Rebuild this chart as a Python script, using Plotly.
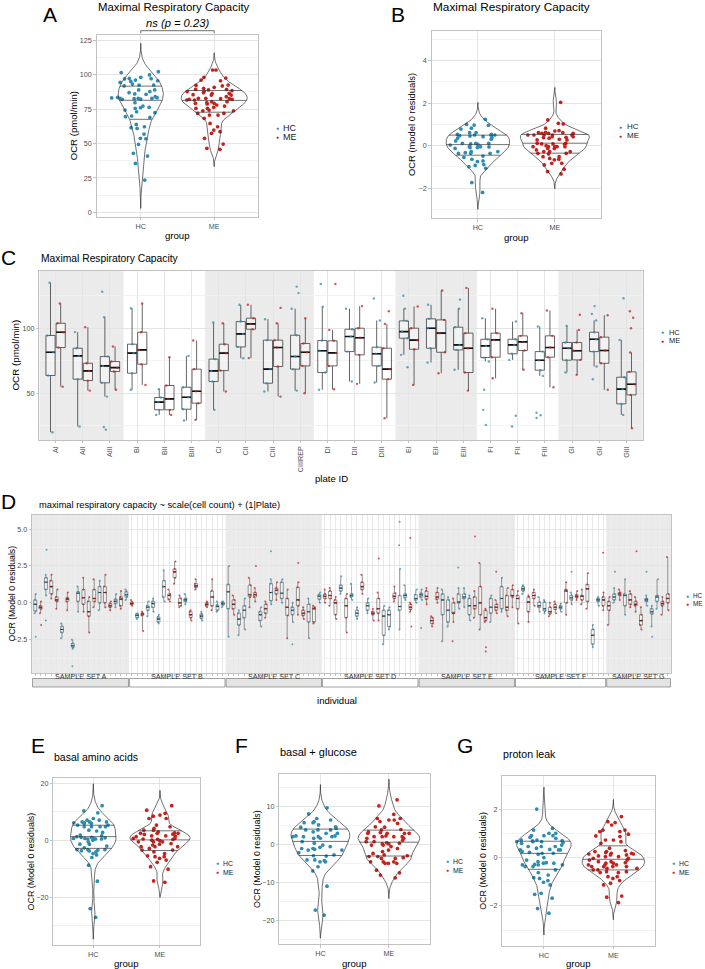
import numpy as np
import plotly.graph_objects as go

# ======================= DATA =======================
groups = ['HC', 'ME']

# Panel A - Maximal Respiratory Capacity, OCR (pmol/min)
a_hc = [93.2, 97.3, 92.5, 86.0, 83.3, 83.5, 82.8, 86.9, 87.7, 85.7, 88.9, 102.2, 99.8, 95.6, 97.1,
        91.8, 94.4, 96.1, 96.9, 92.5, 95.2, 101.5, 98.1, 88.9, 82.8, 82.6, 83.1, 79.7, 76.3, 72.4,
        77.2, 82.3, 82.8, 84.0, 82.1, 76.0, 75.5, 73.1, 74.3, 69.5, 70.0, 69.0, 61.0, 61.5, 62.2,
        63.9, 56.9, 53.8, 53.5, 49.4, 42.9, 40.9, 35.6, 23.5]
a_me = [92.3, 86.9, 85.5, 82.6, 81.6, 80.4, 78.0, 75.5, 89.3, 87.7, 84.0, 82.1, 81.6, 79.2, 90.8,
        89.3, 97.6, 95.6, 103.4, 88.9, 90.1, 91.8, 88.4, 85.2, 82.8, 82.1, 76.3, 79.7, 79.2, 73.8,
        71.9, 70.7, 68.3, 87.7, 86.4, 98.1, 82.6, 80.4, 86.4, 92.5, 96.1, 103.4, 82.8, 78.7, 75.5,
        71.9, 70.7, 57.4, 53.8, 49.6, 58.6, 64.6, 62.2, 59.8, 46.5, 45.8, 73.8, 74.3, 85.2, 77.2]
a_pvalue_label = 'ns (p = 0.23)'

# Panel B - Maximal Respiratory Capacity, model 0 residuals
b_hc = [0.96, -0.06, -0.09, -0.09, -0.28, -0.64, 0.08, 0.47, 0.61, 0.11, 0.50, 0.97, 1.00, 0.53,
        0.53, 0.42, 0.30, -0.05, 0.03, 0.22, 0.11, -0.13, -0.33, -0.75, -0.72, -0.89, -0.28, -0.49,
        0.50, 0.61, 0.35, 0.11, 0.38, 0.82, 1.24, 0.45, 0.50, 0.78, -1.07, -0.93, -0.55, -0.36,
        -0.36, 0.06, -0.99, -1.74, -2.20, -0.05, -0.36]
b_me = [0.63, 0.50, 0.42, 0.82, 0.61, 0.42, 0.08, 0.08, -0.39, -0.52, 1.02, 0.58, 0.50, 0.06, -0.05,
        -0.05, -0.13, -0.28, -0.36, -0.64, -0.83, 1.21, 1.05, 0.69, 0.35, 0.50, 0.27, 0.00, 2.04,
        0.50, -0.05, 0.39, 0.71, -0.52, 0.58, 0.38, 0.50, 0.11, -0.36, 0.58, -0.13, -0.28, 0.61,
        -0.83, -1.33, -1.22, -0.67, -0.91, -1.11, -0.05, -0.20, 0.27, -0.60, -0.28, 0.30, -0.05, 0.11]

# Panel C - per plate box summaries (OCR pmol/min)
plates = ['AI', 'AII', 'AIII', 'BI', 'BII', 'BIII', 'CI', 'CII', 'CIII', 'CIIIREP', 'DI', 'DII',
          'DIII', 'EI', 'EII', 'EIII', 'FI', 'FII', 'FIII', 'GI', 'GII', 'GIII']
c_hc_lo = [20, 24.4, 47.4, 52.6, 33.3, 29, 37.2, 76.9, 51.3, 52, 52.6, 59, 58.2, 79.5, 73.6, 68,
           74.4, 75.6, 63.3, 65.9, 70.5, 33.3]
c_hc_q1 = [63.6, 60.8, 58, 65.4, 37.2, 37.7, 59, 85.6, 57.7, 68.5, 65.9, 82, 71, 92.3, 84.6, 83.3,
           77.4, 80.3, 67.7, 75.4, 82, 41.8]
c_hc_med = [81.5, 78.7, 71, 80.8, 43.1, 46.9, 67.2, 95.6, 68.5, 78.2, 82.6, 93.6, 80.3, 97.4, 100,
            87.2, 86.4, 87.2, 75.4, 84.6, 91.5, 53.1]
c_hc_q3 = [94.4, 84.6, 78.2, 87.7, 46.7, 54.6, 76.2, 105.1, 90.8, 94.6, 90.5, 99.2, 85.4, 105.6,
           107.2, 100.8, 91.5, 91.5, 82, 89, 96.9, 62.3]
c_hc_hi = [135, 97, 108.5, 115.4, 53.1, 78.7, 104.4, 118, 106.9, 115, 116.5, 115, 105.9, 115, 118,
           115, 107.7, 105.1, 101.3, 101.8, 106, 91]
c_hc_out_plate = ['AIII', 'AIII', 'AIII', 'CIIIREP', 'CIIIREP', 'DI', 'DIII', 'EI', 'EI', 'EIII',
                  'FI', 'FI', 'FI', 'FII', 'FII', 'FIII', 'FIII', 'FIII', 'GII', 'GII', 'GII', 'GIII']
c_hc_out_val = [24, 22, 128, 132, 127, 134, 122.8, 70, 125, 122, 52.6, 37.2, 25.6, 32.6, 24.4,
                35, 31, 33, 60.8, 111, 117, 123]
c_me_lo = [55, 52, 52.6, 56.4, 33.3, 29.5, 51.3, 77, 47.4, 50, 53, 57.2, 30.8, 56.4, 65.4, 52,
           61.5, 68, 54.6, 64.1, 52.6, 23.1]
c_me_q1 = [85.1, 59.7, 66.7, 72.3, 37.2, 42.3, 67.4, 99.2, 70.5, 71, 71, 79.5, 60.8, 83.8, 81.5,
           65.9, 77.7, 82.8, 77.7, 75.6, 73, 48.7]
c_me_med = [96.9, 67.2, 69.7, 83.3, 45.6, 51.5, 80.8, 103.3, 85.1, 81.5, 81, 92.6, 68.5, 90.8,
            96.2, 84.6, 91, 89.5, 85.1, 82.6, 82.8, 56.9]
c_me_q3 = [103.8, 73, 74.4, 96.9, 55.9, 68.5, 87.7, 107.7, 90.8, 88.2, 90.3, 100, 84.6, 100, 106.4,
           96.2, 96.2, 94.1, 94.1, 89, 93.1, 66.4]
c_me_hi = [119, 100.8, 85.9, 119, 77.7, 90.5, 103.8, 118, 103.8, 107.7, 98.7, 117, 103.3, 116.7,
           129, 131, 115, 111.5, 113.6, 98.7, 110, 81.3]
c_me_out_plate = ['CIII', 'DI', 'DIII', 'GI', 'GIII', 'GIII', 'GIII']
c_me_out_val = [115.6, 134, 113, 110.3, 100, 108, 113]

# Panel D - per individual box summaries (model 0 residuals)
sample_sets = ['SAMPLE SET A', 'SAMPLE SET B', 'SAMPLE SET C', 'SAMPLE SET D',
               'SAMPLE SET E', 'SAMPLE SET F', 'SAMPLE SET G']
set_sizes = [18, 18, 18, 18, 18, 17, 12]
d_group = ['HC', 'ME', 'HC', 'ME', 'ME', 'HC', 'ME', 'HC', 'HC', 'ME', 'ME', 'ME', 'HC', 'ME', 'ME', 'HC', 'ME', 'HC',
           'ME', 'HC', 'ME', 'HC', 'HC', 'HC', 'HC', 'ME', 'ME', 'ME', 'HC', 'ME', 'ME', 'HC', 'ME', 'ME', 'HC', 'HC',
           'HC', 'ME', 'HC', 'HC', 'ME', 'ME', 'HC', 'ME', 'HC', 'ME', 'HC', 'ME', 'HC', 'ME', 'ME', 'HC', 'ME', 'HC',
           'ME', 'ME', 'ME', 'HC', 'ME', 'HC', 'HC', 'ME', 'HC', 'ME', 'ME', 'HC', 'HC', 'ME', 'HC', 'HC', 'ME', 'HC',
           'HC', 'ME', 'ME', 'ME', 'HC', 'HC', 'ME', 'HC', 'HC', 'HC', 'ME', 'ME', 'ME', 'HC', 'ME', 'HC', 'ME', 'ME',
           'ME', 'HC', 'ME', 'ME', 'HC', 'HC', 'ME', 'ME', 'HC', 'ME', 'HC', 'ME', 'ME', 'ME', 'HC', 'HC', 'ME',
           'ME', 'HC', 'ME', 'HC', 'ME', 'ME', 'ME', 'HC', 'HC', 'HC', 'ME', 'ME']
d_lo = [-0.7, -0.7, 0.5, 0.3, -0.4, -2.4, -0.5, -3.1, -0.6, -0.6, -2.0, -0.3, -0.5, -0.3, -0.5, -0.3, -0.4, 0.2,
        -0.2, -1.1, -1.9, -0.9, -0.6, -1.4, 0.1, 0.1, 1.3, -0.3, -0.1, -1.2, 0.9, -1.2, -0.3, -0.5, -0.6, -0.3,
        -2.3, -0.8, -2.2, -1.8, -0.3, 0.1, -1.6, -1.0, -0.1, 0.2, 0.0, -2.4, -1.3, -0.8, -1.1, -2.4, -1.4, 0.0,
        0.0, -0.2, -1.1, 0.6, -2.0, 0.2, -1.1, 0.6, -0.7, -1.2, -1.2, -2.8, -1.8, 0.1, -1.8, 0.2, -0.6, 0.0,
        0.2, -0.1, -1.6, 0.0, -2.6, -1.6, -1.3, -0.4, -0.3, -1.2, -1.0, -1.8, -1.3, -1.3, -0.7, -0.6, -0.9, -0.3,
        -1.4, 0.6, -1.3, -0.2, -0.6, -0.7, -0.9, -0.7, -0.6, -0.8, -0.1, 0.2, -0.1, -0.4, -3.0, -0.2, -0.5,
        -1.5, 0.0, 0.2, -0.8, -0.3, -0.6, -1.8, -0.2, -1.6, -0.4, -0.8, -0.5]
d_q1 = [-0.55, -0.4, 0.9, 0.6, 0.1, -2.0, 0.1, -3.0, 0.1, -0.1, -0.9, 0.1, 0.0, 0.0, -0.3, -0.05, -0.2, 0.4,
        -0.1, -1.0, -0.85, -0.5, -0.3, -1.3, 0.4, 0.25, 1.7, -0.2, 0.1, -1.0, 1.05, -1.05, -0.2, -0.2, -0.5, -0.15,
        -0.4, -0.4, -1.5, -1.0, 0.4, 0.4, -1.2, -0.7, 0.15, 0.6, 0.3, -0.85, -0.8, -0.2, -0.85, -1.3, -1.3, 0.25,
        0.3, 0.3, -0.8, 0.8, -1.0, 0.4, -0.9, 0.9, -0.5, -0.8, -0.7, -2.2, -1.6, 0.3, -0.5, 0.35, -0.45, 0.2,
        0.4, 0.25, -1.4, 0.25, -0.8, -1.3, -0.7, 0.0, 0.3, -0.8, -0.4, -0.8, -1.2, -0.7, -0.5, -0.4, -0.5, 0.4,
        -0.4, 0.8, -0.6, 0.3, -0.3, -0.55, -0.75, -0.45, -0.4, 0.0, 0.2, 0.35, 0.2, 0.1, -2.8, 0.1, -0.2,
        -0.5, 0.2, 0.5, -0.2, -0.1, -0.2, -1.5, 0.1, -0.75, 0.1, -0.2, 0.0]
d_med = [-0.1, -0.3, 1.4, 1.1, 0.2, -1.8, 0.25, -2.9, 0.65, 0.35, -0.6, 0.3, 0.7, 0.7, -0.2, 0.1, 0.25, 0.55,
         -0.05, -0.85, -0.75, -0.3, -0.05, -1.1, 1.1, 0.5, 2.1, 0.0, 0.2, -0.8, 1.15, -0.9, -0.1, 0.4, -0.25, -0.05,
         0.75, -0.1, -1.1, -0.5, 0.55, 0.55, -0.8, -0.4, 0.7, 0.85, 0.65, -0.3, -0.5, 0.2, -0.7, -0.6, -0.4, 0.45,
         0.45, 0.5, 0.0, 1.0, -0.2, 0.5, -0.7, 1.1, -0.2, -0.7, -0.4, -0.9, -0.8, 0.45, -0.25, 0.5, -0.3, 0.3,
         0.55, 0.45, -1.2, 0.4, 0.2, -0.5, -0.7, 0.05, 0.4, -0.2, -0.2, 0.0, -1.0, -0.3, -0.3, 0.3, -0.3, 0.5,
         0.3, 0.95, 0.05, 0.5, -0.2, -0.4, -0.6, -0.3, -0.3, 0.8, 0.35, 0.45, 0.45, 0.95, -2.2, 0.2, 0.2,
         -0.2, 0.4, 0.6, 0.5, 0.2, -0.1, -1.2, 0.2, -0.6, 0.4, -0.05, 0.3]
d_q3 = [0.2, -0.2, 1.7, 1.5, 0.4, -1.6, 0.35, -2.75, 0.75, 0.9, 0.1, 0.9, 1.1, 1.1, -0.05, 0.25, 0.4, 0.75,
        0.05, -0.75, -0.7, -0.2, 0.1, -0.95, 1.5, 0.6, 2.3, 0.3, 0.3, -0.6, 1.3, -0.75, 0.0, 0.8, -0.15, 0.05,
        1.25, 0.2, -0.7, -0.2, 1.2, 0.7, -0.6, -0.1, 1.3, 1.0, 1.4, 0.3, -0.3, 1.05, -0.5, -0.1, -0.3, 0.55,
        0.6, 0.8, 0.2, 1.2, 0.3, 0.6, -0.5, 1.4, 0.0, -0.6, 0.3, -0.5, -0.5, 0.65, 0.5, 0.6, -0.1, 0.55,
        0.65, 0.8, -1.0, 0.7, 0.6, 0.2, 0.0, 0.6, 0.6, 0.3, 0.4, 1.1, -0.5, 0.3, -0.1, 1.1, 0.5, 0.9,
        0.5, 1.1, 0.4, 0.7, 0.05, 0.05, -0.3, -0.1, -0.2, 0.9, 0.5, 0.55, 0.5, 1.25, -1.8, 0.3, 0.4,
        0.1, 0.6, 0.7, 0.6, 0.6, 0.1, -0.8, 0.3, -0.4, 0.5, 0.1, 0.6]
d_hi = [0.6, 0.1, 1.9, 1.9, 0.9, -1.4, 0.7, -2.5, 1.1, 1.7, 0.4, 1.6, 1.5, 1.9, 0.1, 0.6, 0.8, 0.9,
        0.2, -0.7, -0.6, 0.1, 0.3, -0.8, 2.2, 0.9, 2.8, 0.5, 0.6, -0.5, 1.6, -0.6, 0.1, 1.6, 0.1, 0.1,
        2.5, 0.5, -0.5, 0.3, 1.7, 1.0, -0.3, 0.1, 1.6, 1.4, 1.6, 0.9, 0.0, 1.4, -0.3, 0.3, -0.2, 0.7,
        0.9, 1.0, 0.4, 1.8, 0.6, 1.3, -0.3, 1.9, 0.3, -0.4, 0.7, -0.2, -0.3, 1.1, 2.3, 1.2, 0.0, 0.9,
        0.9, 1.0, -0.9, 1.0, 0.9, 0.4, 0.3, 1.0, 1.0, 0.5, 0.8, 2.7, -0.4, 0.5, 0.2, 1.7, 1.0, 1.2,
        0.8, 1.2, 0.5, 0.9, 0.4, 0.2, 0.0, 0.1, -0.05, 1.4, 0.7, 0.8, 0.9, 2.0, -1.5, 0.4, 0.7,
        0.4, 1.0, 0.9, 1.6, 0.8, 0.4, -0.3, 0.5, -0.2, 1.6, 0.4, 3.1]
d_out_ind = [1, 2, 3, 3, 8, 42, 45, 49, 50, 65, 69, 69, 71, 71, 73, 79, 80, 83, 85, 85, 87, 101,
             107, 109, 113, 115, 116]
d_out_val = [-2.3, -1.5, 3.6, -1.2, -4.3, 2.5, 3.5, -2.8, 2.7, 3.0, 5.5, 3.9, 4.4, -1.6, -1.7, -2.6,
             2.4, 4.5, -3.0, -3.3, 2.1, 2.1, 3.4, 2.1, 3.5, 2.1, -2.3]

# Panel E - basal amino acids
e_hc = [12.2, 6.5, 6.2, 7.1, 5.4, 3.6, 4.8, 4.8, 6.5, 7.7, 10.4, 7.1, 9.7, 5.4, 6.0, 4.8, 3.3, 0.5,
        0.5, 0.7, 0.1, 1.9, -0.5, -1.3, 1.3, 1.1, 1.1, 0.9, 0.5, 0.7, -2.0, -2.6, -3.6, -3.2, -5.1,
        -6.0, -3.2, -3.4, -4.6, 0.7, -1.3, 2.8, 1.6, 6.2, -3.7, -3.2, 6.0, -4.0, -8.7, -14.3, -27.0,
        -23.9, 4.8, 6.5]
e_me = [8.5, 8.9, 7.7, 7.7, 12.2, 9.5, 10.6, 5.4, 4.8, 3.6, 3.0, 1.6, 2.7, 2.2, 0.5, 2.1, 2.5, 1.5,
        0.7, -0.5, 0.4, 2.5, 4.2, 3.6, 2.5, 0.7, 1.6, 1.3, -0.1, 0.4, -1.3, -0.5, -2.8, -2.2, -3.4,
        -4.6, -5.7, -4.0, -2.2, -6.3, -9.2, -10.1, -1.6, -2.2, -3.4, -5.4, -1.1, -6.9, -5.7, -7.7,
        -14.2, -14.7, 0.1, -0.5]

# Panel F - basal + glucose
f_hc = [3.3, 4.6, 5.7, 3.8, 2.9, 0.3, -4.3, -7.0, 3.8, 5.7, 5.1, 6.4, 2.9, 4.5, 2.2, -1.5, -2.8,
        -4.1, -4.6, -0.2, -2.2, -1.1, 2.0, 6.0, 1.6, 2.0, 2.2, 1.6, -0.6, -1.3, 0.7, 2.0, 3.8, 4.2,
        -3.0, -1.1, -1.5, -5.9, -3.1, -4.6, -4.1, 9.6, 8.0, -11.0, -17.3, -18.6, 2.0, -0.8, 6.8]
f_me = [6.4, 6.0, 6.4, 6.8, 4.5, 3.8, 2.9, 2.0, 1.6, 2.9, 3.9, 3.3, 2.9, 0.7, 0.1, -0.2, 0.1, -0.6,
        -1.1, -0.2, 0.7, 1.1, 2.0, 11.7, 7.9, 6.8, 1.6, 2.0, 2.2, 2.9, 3.1, 4.6, 5.5, 10.1, 2.0, -1.9,
        -3.0, -1.5, -2.8, -4.6, -5.0, -4.6, -3.5, -3.2, -5.0, -3.2, -3.7, -4.6, -2.4, -3.7, -7.5,
        -8.8, -6.8, -8.1, -5.0, 0.3, 0.4]

# Panel G - proton leak
g_hc = [2.01, 0.91, 0.91, 0.91, 1.01, 1.14, 0.73, 0.66, 0.59, 0.62, 0.66, 0.66, 0.69, 0.84, 0.80,
        0.73, 1.21, 1.01, 0.70, 0.46, 0.32, 0.00, -0.10, -0.30, -0.37, -0.17, -0.23, 0.25, 0.32,
        0.18, 0.14, 0.46, 0.34, 0.39, 0.46, 0.52, 0.32, 0.22, 0.18, -0.21, -0.30, -0.37, -0.23,
        -0.30, -0.28, -0.51, -0.72, -0.62, -0.95, -0.86, -1.02, -1.13, -0.83, -1.52, -1.48, -1.68,
        -2.11, -2.30]
g_me = [1.14, 0.73, 0.87, 1.14, 0.97, 0.66, 0.59, 0.73, 1.45, 1.70, 1.35, 0.90, 1.08, 1.08, 1.49,
        0.11, 0.25, 0.18, 0.39, 0.29, 0.11, 0.25, 0.21, 0.15, 0.07, -0.03, -0.10, -0.23, -0.30,
        0.04, 0.18, 0.04, -0.03, 0.15, -0.10, -0.17, -0.30, -0.37, -0.23, -0.37, -0.51, -0.21,
        -0.30, -0.44, -0.62, -0.17, -0.37, -0.58, -0.44, -0.51, -0.58, -0.37, -0.62, -0.79, -0.86,
        -1.06, -0.79, -1.13, -0.95, -1.64, -1.86, -1.59]

# ======================= STYLE / LAYOUT =======================
W, H = 705, 969
COL = {'HC': '#2C8CB1', 'ME': '#C8201C'}
FONT = 'Liberation Sans, Arial, Helvetica, sans-serif'
INK = '#333333'

# panel plot areas in pixels: (left, right, top, bottom)
BOX = {
    'A': (96.7, 258.3, 35.0, 216.7),
    'B': (431.7, 601.0, 30.7, 218.3),
    'C': (39.3, 642.7, 271.0, 440.0),
    'D': (32.0, 671.0, 515.0, 673.0),
    'E': (53.3, 200.0, 778.3, 945.0),
    'F': (279.3, 430.0, 774.0, 944.3),
    'G': (502.3, 655.0, 776.0, 946.0),
}
AX = {'A': '', 'B': '2', 'C': '3', 'D': '4', 'E': '5', 'F': '6', 'G': '7'}


def fx(p):
    return p / W


def fy(p):
    return 1 - p / H


fig = go.Figure()
ann = []
shapes = []
layout_axes = {}


def add_text(x, y, s, size, color='#000000', xanchor='center', yanchor='middle', angle=0):
    ann.append(dict(x=fx(x), y=fy(y), xref='paper', yref='paper', text=s, showarrow=False,
                    xanchor=xanchor, yanchor=yanchor, textangle=angle, borderpad=0,
                    font=dict(family=FONT, size=size, color=color)))


def axis(panel, letter, rng, **kw):
    l, r, t, b = BOX[panel]
    dom = [fx(l), fx(r)] if letter == 'x' else [fy(b), fy(t)]
    other = ('y' if letter == 'x' else 'x') + AX[panel]
    d = dict(domain=dom, anchor=other, range=rng, showline=True, mirror=True,
             linecolor='#C2C2C2', linewidth=0.8, showgrid=True, gridcolor='#E4E4E4',
             gridwidth=0.6, zeroline=False, ticks='outside', ticklen=2.5, tickwidth=0.6,
             tickcolor='#C2C2C2', tickfont=dict(family=FONT, size=7.2, color='#4D4D4D'))
    d.update(kw)
    layout_axes[letter + 'axis' + AX[panel]] = d


def kde(vals):
    v = np.asarray(vals, dtype=float)
    n = len(v)
    sd = v.std(ddof=1)
    iqr = np.subtract(*np.percentile(v, [75, 25]))
    bw = 0.9 * min(sd, iqr / 1.34) * n ** -0.2
    grid = np.linspace(v.min() - 3 * bw, v.max() + 3 * bw, 512)
    dens = np.exp(-0.5 * ((grid[:, None] - v[None, :]) / bw) ** 2).sum(1) / (n * bw * np.sqrt(2 * np.pi))
    return grid, dens


def legend_block(x_dot, y_hc, y_me, size):
    for g, yy in (('HC', y_hc), ('ME', y_me)):
        add_text(x_dot, yy, '●', 5, color=COL[g])
        add_text(x_dot + 4.8, yy, g, size, color='#1A1A1A', xanchor='left')


def violin_panel(panel, hc, me, yrng, dtick, minor, title, title_size, title_y, yfmt=None):
    xa, ya = 'x' + AX[panel], 'y' + AX[panel]
    data = {'HC': np.asarray(hc, float), 'ME': np.asarray(me, float)}
    kd = {g: kde(data[g]) for g in groups}
    maxd = max(kd[g][1].max() for g in groups)
    for i, g in enumerate(groups):
        pos = i + 1
        grid, dens = kd[g]
        hw = 0.45 * dens / maxd
        ox = np.concatenate([pos - hw, (pos + hw)[::-1], [pos - hw[0]]])
        oy = np.concatenate([grid, grid[::-1], [grid[0]]])
        # white violin body (between grid lines and the jittered points)
        path = 'M' + 'L'.join('{:.5f},{:.5f}'.format(a, b) for a, b in zip(ox[::2], oy[::2])) + 'Z'
        shapes.append(dict(type='path', xref=xa, yref=ya, path=path, fillcolor='white',
                           line=dict(width=0), layer='between'))
        fig.add_trace(go.Scatter(x=ox, y=oy, mode='lines', line=dict(color=INK, width=0.7),
                                 xaxis=xa, yaxis=ya, hoverinfo='skip', showlegend=False))
        cdf = np.cumsum(dens)
        cdf = cdf / cdf[-1]
        qx, qy = [], []
        for p in (0.25, 0.5, 0.75):
            yq = np.interp(p, cdf, grid)
            w = np.interp(yq, grid, hw)
            qx += [pos - w, pos + w, None]
            qy += [yq, yq, None]
        fig.add_trace(go.Scatter(x=qx, y=qy, mode='lines', line=dict(color=INK, width=0.7),
                                 xaxis=xa, yaxis=ya, hoverinfo='skip', showlegend=False))
    for i, g in enumerate(groups):
        fig.add_trace(go.Box(
            x=[i + 1] * len(data[g]), y=data[g], name=g, boxpoints='all', jitter=1, pointpos=0,
            width=0.86, fillcolor='rgba(0,0,0,0)', line=dict(width=0, color='rgba(0,0,0,0)'),
            marker=dict(color=COL[g], size=3.7), offsetgroup='v' + panel,
            alignmentgroup='v' + panel, xaxis=xa, yaxis=ya, showlegend=False, hoverinfo='y'))
    axis(panel, 'x', [0.4, 2.6], tickmode='array', tickvals=[1, 2], ticktext=groups)
    ykw = dict(tickmode='linear', tick0=0, dtick=dtick,
               minor=dict(dtick=minor, tick0=0, showgrid=True, gridcolor='#F2F2F2', gridwidth=0.5))
    if yfmt:
        ykw['tickformat'] = yfmt
    axis(panel, 'y', yrng, **ykw)
    l, r, t, b = BOX[panel]
    add_text(l, title_y, title, title_size, xanchor='left')


# ---------- Panel A ----------
violin_panel('A', a_hc, a_me, [-3.1, 128.8], 25, 12.5, 'Maximal Respiratory Capacity', 11.4, 7.5)
add_text(73.5, 125.8, 'OCR (pmol/min)', 9.6, angle=-90)
add_text(177.5, 235.5, 'group', 9.6)
add_text(50, 15, 'A', 21)
add_text(178, 23.5, '<i>' + a_pvalue_label + '</i>', 11.2)
shapes.append(dict(type='path', xref='x', yref='paper',
                   path='M1,{0}L1,{1}L2,{1}L2,{0}'.format(fy(33.3), fy(30.7)),
                   line=dict(color=INK, width=0.7)))
legend_block(277, 128.0, 137.0, 9.0)

# ---------- Panel B ----------
violin_panel('B', b_hc, b_me, [-3.42, 5.41], 2, 1, 'Maximal Respiratory Capacity', 11.8, 6.5)
add_text(411.5, 124.5, 'OCR (model 0 residuals)', 9.4, angle=-90)
add_text(516.5, 237.3, 'group', 9.6)
add_text(398, 15, 'B', 21)
legend_block(620.7, 126.8, 135.5, 8.0)

# ---------- Panel C ----------
c_pos = list(range(1, len(plates) + 1))
c_sets = {
    'HC': (c_hc_lo, c_hc_q1, c_hc_med, c_hc_q3, c_hc_hi, c_hc_out_plate, c_hc_out_val),
    'ME': (c_me_lo, c_me_q1, c_me_med, c_me_q3, c_me_hi, c_me_out_plate, c_me_out_val),
}
for g in groups:
    lo, q1, med, q3, hi, op, ov = c_sets[g]
    ptx, pty = [], []
    for i, p in enumerate(c_pos):
        for v in (lo[i], q1[i], med[i], q3[i], hi[i]):
            ptx.append(p)
            pty.append(v)
    for pl, v in zip(op, ov):
        ptx.append(plates.index(pl) + 1)
        pty.append(v)
    fig.add_trace(go.Box(x=c_pos, q1=q1, median=med, q3=q3, lowerfence=lo, upperfence=hi,
                         boxpoints=False, fillcolor='rgba(255,255,255,0.35)',
                         line=dict(color='#3D3D3D', width=0.8), whiskerwidth=0,
                         offsetgroup='c' + g, alignmentgroup='c', xaxis='x3', yaxis='y3',
                         showlegend=False, hoverinfo='skip'))
    fig.add_trace(go.Box(x=c_pos, q1=med, median=med, q3=med, lowerfence=med, upperfence=med,
                         boxpoints=False, fillcolor='rgba(0,0,0,0)',
                         line=dict(color='#111111', width=1.6), whiskerwidth=0,
                         offsetgroup='c' + g, alignmentgroup='c', xaxis='x3', yaxis='y3',
                         showlegend=False, hoverinfo='skip'))
    fig.add_trace(go.Box(x=ptx, y=pty, boxpoints='all', jitter=0.8, pointpos=0,
                         fillcolor='rgba(0,0,0,0)', line=dict(width=0, color='rgba(0,0,0,0)'),
                         marker=dict(color=COL[g], size=2.4, opacity=0.75),
                         offsetgroup='c' + g, alignmentgroup='c', xaxis='x3', yaxis='y3',
                         showlegend=False, hoverinfo='y'))
axis('C', 'x', [0.4, len(plates) + 0.6], tickmode='array', tickvals=c_pos, ticktext=plates,
     tickangle=-90)
axis('C', 'y', [14, 144], tickmode='linear', tick0=0, dtick=50,
     minor=dict(dtick=25, tick0=0, showgrid=True, gridcolor='#F2F2F2', gridwidth=0.5))
letters = []
for p in plates:
    if p[0] not in letters:
        letters.append(p[0])
c_xmin, c_xmax = 0.4, len(plates) + 0.6
for j, L in enumerate(letters):
    idx = [i + 1 for i, p in enumerate(plates) if p[0] == L]
    if j % 2 == 0:
        x0 = c_xmin if j == 0 else min(idx) - 0.5
        x1 = c_xmax if j == len(letters) - 1 else max(idx) + 0.5
        shapes.append(dict(type='rect', xref='x3', yref='y3 domain', x0=x0, x1=x1, y0=0, y1=1,
                           fillcolor='#EBEBEB', line=dict(width=0), layer='below'))
add_text(40, 258.5, 'Maximal Respiratory Capacity', 10.3, xanchor='left')
add_text(8.5, 258, 'C', 21)
add_text(15, 355.5, 'OCR (pmol/min)', 9.8, angle=-90)
add_text(331, 478, 'plate ID', 9.6)
legend_block(662.7, 332.0, 341.0, 7.4)

# ---------- Panel D ----------
d_pos = list(range(1, len(d_group) + 1))
for g in groups:
    sel = [i for i, gg in enumerate(d_group) if gg == g]
    xs = [d_pos[i] for i in sel]
    lo = [d_lo[i] for i in sel]
    q1 = [d_q1[i] for i in sel]
    med = [d_med[i] for i in sel]
    q3 = [d_q3[i] for i in sel]
    hi = [d_hi[i] for i in sel]
    ptx, pty = [], []
    for i in sel:
        for v in (d_lo[i], d_q1[i], d_med[i], d_q3[i], d_hi[i]):
            ptx.append(d_pos[i])
            pty.append(v)
    for ind, v in zip(d_out_ind, d_out_val):
        if d_group[ind - 1] == g:
            ptx.append(ind)
            pty.append(v)
    fig.add_trace(go.Box(x=xs, q1=q1, median=med, q3=q3, lowerfence=lo, upperfence=hi,
                         boxpoints=False, fillcolor='rgba(255,255,255,0.35)',
                         line=dict(color='#555555', width=0.6), whiskerwidth=0, width=0.55,
                         offsetgroup='d', alignmentgroup='d', xaxis='x4', yaxis='y4',
                         showlegend=False, hoverinfo='skip'))
    fig.add_trace(go.Box(x=xs, q1=med, median=med, q3=med, lowerfence=med, upperfence=med,
                         boxpoints=False, fillcolor='rgba(0,0,0,0)',
                         line=dict(color='#222222', width=1.1), whiskerwidth=0, width=0.55,
                         offsetgroup='d', alignmentgroup='d', xaxis='x4', yaxis='y4',
                         showlegend=False, hoverinfo='skip'))
    fig.add_trace(go.Box(x=ptx, y=pty, boxpoints='all', jitter=0.7, pointpos=0, width=0.55,
                         fillcolor='rgba(0,0,0,0)', line=dict(width=0, color='rgba(0,0,0,0)'),
                         marker=dict(color=COL[g], size=2.0, opacity=0.75),
                         offsetgroup='d', alignmentgroup='d', xaxis='x4', yaxis='y4',
                         showlegend=False, hoverinfo='y'))
d_xmin, d_xmax = 0.4, len(d_group) + 0.6
axis('D', 'x', [d_xmin, d_xmax], tickmode='array', tickvals=d_pos, showticklabels=False,
     gridcolor='#E8E8E8', gridwidth=0.5)
axis('D', 'y', [-4.75, 5.95], tickmode='linear', tick0=0, dtick=2.5, tickformat='.1f',
     minor=dict(dtick=1.25, tick0=0, showgrid=True, gridcolor='#F2F2F2', gridwidth=0.5))
start = 1
for j, (name, n) in enumerate(zip(sample_sets, set_sizes)):
    end = start + n - 1
    x0 = d_xmin if j == 0 else start - 0.5
    x1 = d_xmax if j == len(set_sizes) - 1 else end + 0.5
    if j % 2 == 0:
        shapes.append(dict(type='rect', xref='x4', yref='y4 domain', x0=x0, x1=x1, y0=0, y1=1,
                           fillcolor='#EBEBEB', line=dict(width=0), layer='below'))
    shapes.append(dict(type='rect', xref='x4', yref='paper', x0=x0 + 0.1, x1=x1 - 0.1,
                       y0=fy(687), y1=fy(678.5),
                       fillcolor='#E4E4E4' if j % 2 == 0 else '#FFFFFF',
                       line=dict(color='#666666', width=0.6)))
    ann.append(dict(x=(x0 + x1) / 2, y=fy(682.8), xref='x4', yref='paper', text=name,
                    showarrow=False, font=dict(family=FONT, size=7.2, color='#333333')))
    start = end + 1
add_text(38, 505, 'maximal respiratory capacity ~ scale(cell count) + (1|Plate)', 9.3, xanchor='left')
add_text(8, 501, 'D', 21)
add_text(11.5, 594, 'OCR (Model 0 residuals)', 8.7, angle=-90)
add_text(337, 700, 'individual', 9.6)
legend_block(687.3, 595.6, 603.8, 6.4)

# ---------- Panels E, F, G ----------
violin_panel('E', e_hc, e_me, [-36.7, 21.8], 20, 10, 'basal amino acids', 10.5, 756.5)
add_text(30.7, 861.7, 'OCR (Model 0 residuals)', 8.9, angle=-90)
add_text(126.7, 963.5, 'group', 9.6)
add_text(37.5, 745, 'E', 21)
legend_block(217.3, 863.4, 872.2, 6.9)

violin_panel('F', f_hc, f_me, [-26.3, 18.5], 10, 5, 'basal + glucose', 11.0, 751.5)
add_text(256.7, 859.2, 'OCR (Model 0 residuals)', 8.9, angle=-90)
add_text(354.7, 963.5, 'group', 9.6)
add_text(241.5, 745, 'F', 21)
legend_block(447.3, 861.2, 870.0, 6.9)

violin_panel('G', g_hc, g_me, [-3.66, 3.38], 2, 1, 'proton leak', 10.6, 754)
add_text(482.7, 861.0, 'OCR (Model 0 residuals)', 8.9, angle=-90)
add_text(578.7, 963.5, 'group', 9.6)
add_text(465, 745, 'G', 21)
legend_block(673.3, 863.4, 872.2, 6.9)

fig.update_layout(
    width=W, height=H, autosize=False,
    margin=dict(l=0, r=0, t=0, b=0, pad=0),
    paper_bgcolor='white', plot_bgcolor='white',
    showlegend=False, boxmode='group', boxgap=0.25, boxgroupgap=0.1,
    font=dict(family=FONT, color='#1A1A1A'),
    annotations=ann, shapes=shapes,
    **layout_axes,
)

fig.write_html('out.html')
